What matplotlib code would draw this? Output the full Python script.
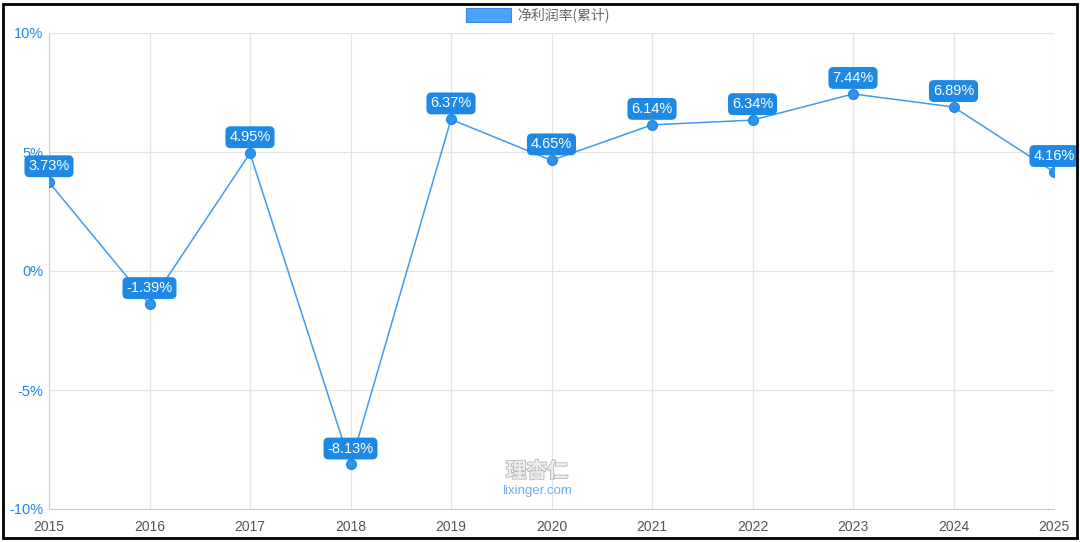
import matplotlib.pyplot as plt
from matplotlib.patches import Rectangle
import matplotlib.patheffects as pe

plt.rcParams['font.family'] = ['Liberation Sans', 'Noto Sans CJK SC', 'DejaVu Sans']

years = ['2015', '2016', '2017', '2018', '2019', '2020', '2021', '2022', '2023', '2024', '2025']
net_margin = [3.73, -1.39, 4.95, -8.13, 6.37, 4.65, 6.14, 6.34, 7.44, 6.89, 4.16]
y_ticks = [-10, -5, 0, 5, 10]

blue = '#3d9bf0'
label_blue = '#1e88e5'

fig = plt.figure(figsize=(10.8, 5.42), dpi=100)
ax = fig.add_axes([49 / 1080, 33 / 542, 1005 / 1080, 476 / 542])

x = list(range(len(years)))
ax.plot(x, net_margin, color=blue, lw=1.1, marker='o', ms=7,
        markerfacecolor='#2f93ee', markeredgecolor=label_blue, zorder=3)

# value labels in rounded boxes above each point
for xi, v in zip(x, net_margin):
    ax.annotate(f'{v:.2f}%', (xi, v), xytext=(0, 11.5), textcoords='offset points',
                ha='center', va='center', color='white', fontsize=10.5,
                bbox=dict(boxstyle='round,pad=0.27,rounding_size=0.35',
                          fc=label_blue, ec='none'),
                zorder=4, annotation_clip=False)

ax.set_xlim(0, len(years) - 1)
ax.set_ylim(-10, 10)
ax.set_xticks(x)
ax.set_xticklabels(years)
ax.set_yticks(y_ticks)
ax.set_yticklabels([f'{t}%' for t in y_ticks])
ax.tick_params(axis='x', colors='#555555', labelsize=10, length=0, pad=8)
ax.tick_params(axis='y', colors='#1e88e5', labelsize=10.5, length=0, pad=4)
ax.grid(color='#e3e3e3', lw=0.9)
ax.set_axisbelow(True)
for side in ['top', 'right']:
    ax.spines[side].set_visible(False)
ax.spines['left'].set_color('#cccccc')
ax.spines['bottom'].set_color('#cccccc')

# legend
fig.patches.append(Rectangle((466 / 1080, 1 - 22 / 542), 45 / 1080, 14 / 542,
                             transform=fig.transFigure, fc='#4ea5f5', ec='#2d8ff0', lw=0.8))
fig.text(517 / 1080, 1 - 15 / 542, '净利润率(累计)', color='#666666', fontsize=10,
         ha='left', va='center', family=['Noto Sans CJK SC', 'DejaVu Sans'])

# watermark
fig.text(537 / 1080, 1 - 471 / 542, '理杏仁', color='#eeeeee', fontsize=15,
         ha='center', va='center', weight='bold',
         family=['Noto Sans CJK SC', 'DejaVu Sans'],
         path_effects=[pe.withStroke(linewidth=1.2, foreground='#b5b5b5')])
fig.text(537 / 1080, 1 - 491 / 542, 'lixinger.com', color='#6aaee8', fontsize=9.5,
         ha='center', va='center')

# outer frame
fig.patches.append(Rectangle((3 / 1080, 4 / 542), 1074 / 1080, 534 / 542,
                             transform=fig.transFigure, fc='none', ec='black', lw=2))

fig.savefig('out.png', dpi=100)
